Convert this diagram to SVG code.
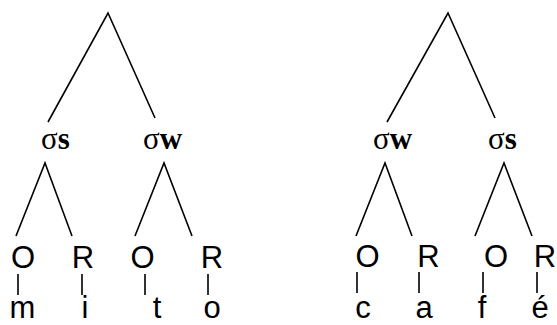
<svg xmlns="http://www.w3.org/2000/svg" width="557" height="325" viewBox="0 0 557 325">
<style>
.e{stroke:#000;stroke-width:1.6;fill:none;stroke-linecap:butt}
.s{font-family:"Liberation Serif","Times New Roman",serif;font-size:31px;fill:#000}
.s tspan.b{font-weight:bold}
.l{font-family:"Liberation Sans",Arial,sans-serif;font-size:31px;fill:#000;text-anchor:middle}
</style>
<rect width="557" height="325" fill="#fff"/>
<g id="connectors">
<path class="e" d="M48,122 L108,13 L155,118"/>
<path class="e" d="M16,236 L45,163 L72,236"/>
<path class="e" d="M135,236 L164,163 L192,236"/>
<path class="e" d="M18,274 V295 M82,274 V295 M145,274 V295 M208,274 V295"/>
<path class="e" d="M387,122 L448,13 L495,118"/>
<path class="e" d="M356,236 L385,163 L412,236"/>
<path class="e" d="M475,236 L504,163 L532,236"/>
<path class="e" d="M357,272 V293 M419,272 V293 M483,272 V293 M537,272 V293"/>
</g>
<g id="syl-left-s"><text class="s" x="41" y="149">σ<tspan class="b">s</tspan></text></g>
<g id="syl-left-w"><text class="s" x="143" y="149">σ<tspan class="b">w</tspan></text></g>
<g id="syl-right-w"><text class="s" x="373" y="149">σ<tspan class="b">w</tspan></text></g>
<g id="syl-right-s"><text class="s" x="488" y="149">σ<tspan class="b">s</tspan></text></g>
<g id="o1"><text class="l" x="23" y="268">O</text></g>
<g id="r1"><text class="l" x="83" y="268">R</text></g>
<g id="o2"><text class="l" x="142.5" y="268">O</text></g>
<g id="r2"><text class="l" x="212" y="268">R</text></g>
<g id="o3"><text class="l" x="367.5" y="267">O</text></g>
<g id="r3"><text class="l" x="428.5" y="267">R</text></g>
<g id="o4"><text class="l" x="496" y="267">O</text></g>
<g id="r4"><text class="l" x="545" y="267">R</text></g>
<g id="seg-m"><text class="l" x="22.5" y="318">m</text></g>
<g id="seg-i"><text class="l" x="85" y="318">i</text></g>
<g id="seg-t"><text class="l" x="157" y="318">t</text></g>
<g id="seg-o"><text class="l" x="212" y="318">o</text></g>
<g id="seg-c"><text class="l" x="363" y="318">c</text></g>
<g id="seg-a"><text class="l" x="424" y="318">a</text></g>
<g id="seg-f"><text class="l" x="482" y="318">f</text></g>
<g id="seg-e"><text class="l" x="540" y="318">é</text></g>
</svg>
